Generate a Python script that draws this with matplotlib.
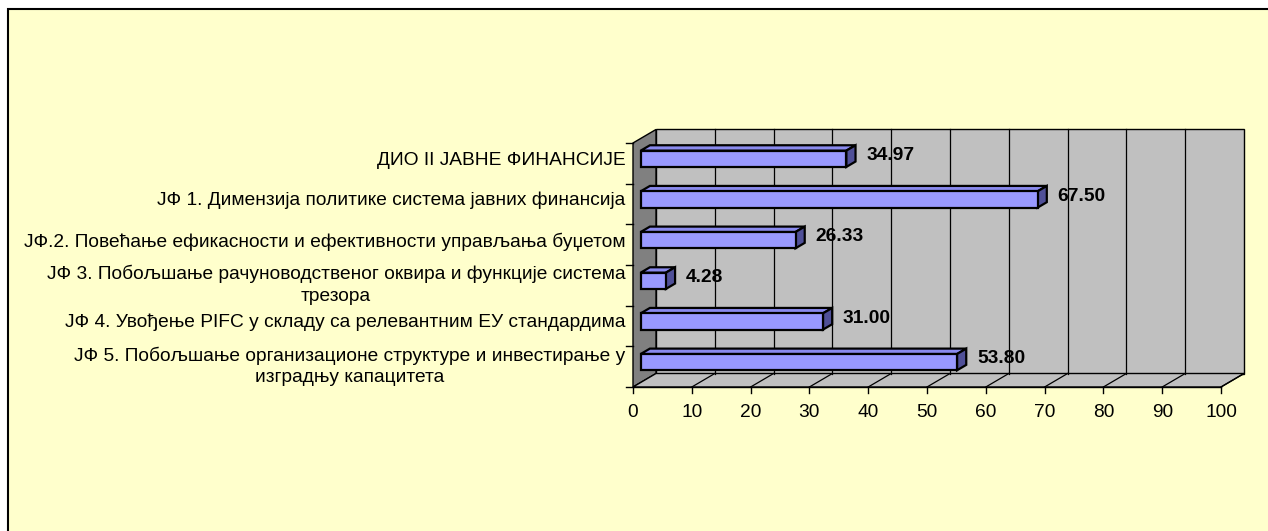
import numpy as np
import matplotlib
matplotlib.use("Agg")
import matplotlib.pyplot as plt
from matplotlib.patches import Polygon, Rectangle

plt.rcParams["font.family"] = ["Liberation Sans", "DejaVu Sans"]

categories = [
    "ДИО II ЈАВНЕ ФИНАНСИЈЕ",
    "ЈФ 1. Димензија политике система јавних финансија",
    "ЈФ.2. Повећање ефикасности и ефективности управљања буџетом",
    "ЈФ 3. Побољшање рачуноводственог оквира и функције система\nтрезора",
    "ЈФ 4. Увођење PIFC у складу са релевантним ЕУ стандардима",
    "ЈФ 5. Побољшање организационе структуре и инвестирање у\nизградњу капацитета",
]
values = [34.97, 67.50, 26.33, 4.28, 31.00, 53.80]
x_ticks = list(range(0, 101, 10))

W, H, DPI = 1268, 531, 100
# layout: front plane origin (pixels), scale, depth offset
X0, Y0 = 633, 387
PX_X = 5.88       # px per value unit
PX_Y = 40.67      # px per category
DX, DY = 23 / PX_X, 13.5 / PX_Y   # box depth in data units
F0, FD = 0.335, 0.40              # bar front depth fraction, bar depth fraction
BAR_H = 0.40

BG = "#FFFFCC"
WALL = "#C0C0C0"
SIDE = "#808080"
BAR_FRONT = "#9999FF"
BAR_TOP = "#8A8AEE"
BAR_SIDE = "#505098"

fig = plt.figure(figsize=(W / DPI, H / DPI), dpi=DPI)
fig.patch.set_facecolor("white")
fig.add_artist(Rectangle((8 / W, -0.05), 1.1, 1 - 9 / H + 0.05, transform=fig.transFigure,
                         facecolor=BG, edgecolor="black", lw=1.5, zorder=0))
ax = fig.add_axes([0, 0, 1, 1])
ax.set_facecolor("none")
ax.set_xlim(-X0 / PX_X, (W - X0) / PX_X)
ax.set_ylim(-(H - Y0) / PX_Y, Y0 / PX_Y)
ax.axis("off")

n = len(categories)
vmax = x_ticks[-1]

def poly(pts, fc, z, lw=1.0):
    ax.add_patch(Polygon(pts, closed=True, facecolor=fc, edgecolor="black", lw=lw, zorder=z))

# back wall, left wall, floor
poly([(DX, DY), (vmax + DX, DY), (vmax + DX, n + DY), (DX, n + DY)], WALL, 1)
poly([(0, 0), (DX, DY), (DX, n + DY), (0, n)], SIDE, 1)
poly([(0, 0), (vmax, 0), (vmax + DX, DY), (DX, DY)], WALL, 1)

# gridlines on wall and floor
for t in x_ticks[1:-1]:
    ax.plot([t + DX, t + DX], [DY, n + DY], color="black", lw=0.9, zorder=2)
for t in x_ticks[1:]:
    ax.plot([t, t + DX], [0, DY], color="black", lw=0.9, zorder=2)

# ticks and tick labels
for t in x_ticks:
    ax.plot([t, t], [0, -0.15], color="black", lw=1, zorder=2)
    ax.text(t, -0.62, str(t), ha="center", va="center", fontsize=13.8, zorder=3)
ax.plot([0, vmax], [0, 0], color="black", lw=1, zorder=2)
for k in range(n + 1):
    ax.plot([-1.2, 0], [k, k], color="black", lw=1, zorder=2)

# bars
for i, (lab, v) in enumerate(zip(categories, values)):
    c = n - i - 0.5
    x0 = F0 * DX
    yb = c - BAR_H / 2 + F0 * DY
    yt = c + BAR_H / 2 + F0 * DY
    ddx, ddy = FD * DX, FD * DY
    poly([(x0, yt), (x0 + v, yt), (x0 + v + ddx, yt + ddy), (x0 + ddx, yt + ddy)], BAR_TOP, 4, 1.6)
    poly([(x0 + v, yb), (x0 + v + ddx, yb + ddy), (x0 + v + ddx, yt + ddy), (x0 + v, yt)], BAR_SIDE, 4, 1.6)
    poly([(x0, yb), (x0 + v, yb), (x0 + v, yt), (x0, yt)], BAR_FRONT, 5, 1.6)
    ax.text(x0 + v + 3.4, c + F0 * DY + 0.08, f"{v:.2f}", ha="left", va="center",
            fontsize=13.8, fontweight="bold", zorder=6)
    shift = -0.03 if "\n" not in lab else -0.10
    ax.text(-1.3, c + F0 * DY + shift, lab, ha="right", va="center", multialignment="center",
            fontsize=13.8, zorder=6, linespacing=1.35)

fig.savefig("out.png", dpi=DPI)
